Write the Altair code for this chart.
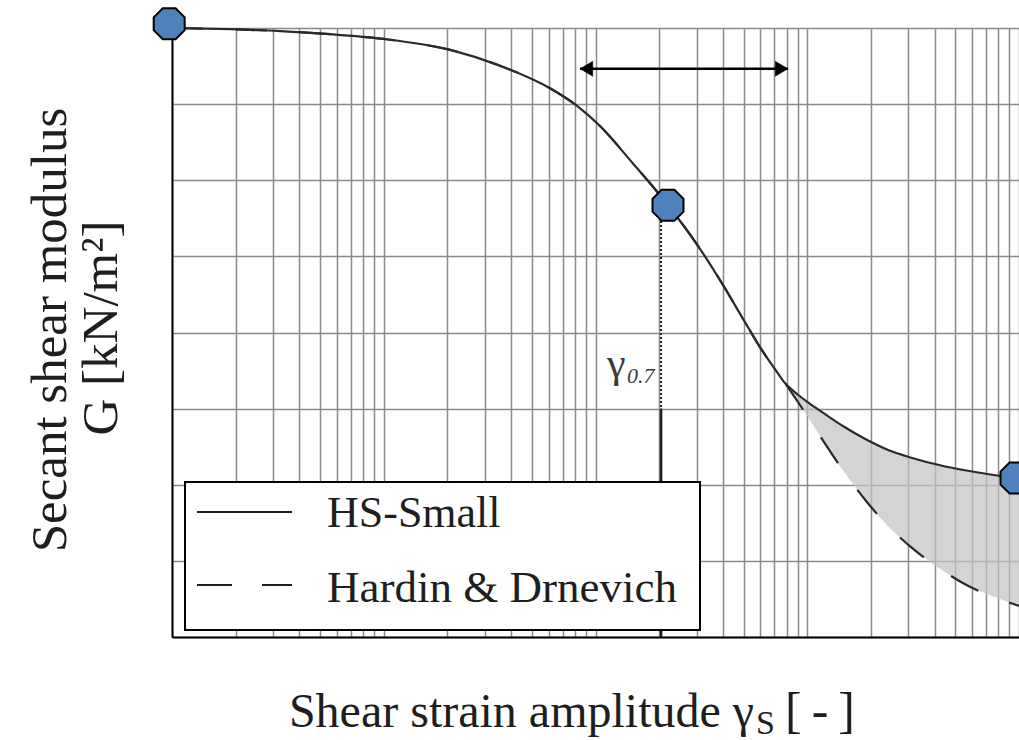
import altair as alt
import pandas as pd

# Shear strain amplitude and normalised secant shear modulus G/G0,
# part shared by both models (small strains)
gamma_head = [1.0e-6, 1.88e-6, 3.24e-6, 5.57e-6, 1.0e-5, 2.06e-5, 3.54e-5, 6.10e-5,
              8.18e-5, 1.05e-4, 1.50e-4, 1.81e-4, 2.20e-4, 3.12e-4, 4.00e-4, 5.08e-4,
              5.98e-4, 7.20e-4]
g_head = [1.000, 0.998, 0.995, 0.990, 0.982, 0.964, 0.938, 0.901,
          0.872, 0.839, 0.778, 0.745, 0.709, 0.637, 0.578, 0.517,
          0.476, 0.435]

# Larger strains, where the two models part ways
gamma_tail = [7.85e-4, 8.95e-4, 1.0e-3, 1.19e-3, 1.48e-3, 1.88e-3, 2.41e-3,
              3.13e-3, 4.24e-3, 5.74e-3, 8.32e-3, 1.0e-2]
g_hs_small_tail = [0.417, 0.399, 0.386, 0.368, 0.346, 0.325, 0.307,
                   0.294, 0.282, 0.273, 0.264, 0.261]
g_hardin_tail = [0.417, 0.388, 0.363, 0.322, 0.273, 0.225, 0.182,
                 0.146, 0.112, 0.084, 0.061, 0.051]

# Characteristic points: G0, G at gamma_0.7, G_ur cut-off
marker_gamma = [0.97e-6, 2.20e-4, 9.68e-3]
marker_g = [1.007, 0.709, 0.261]

# Drop line at gamma_0.7 (dotted upper part, solid lower part)
gamma_07 = 2.04e-4
drop_top, drop_mid = 0.683, 0.375

# Double arrow marking the typical small-strain range
arrow_gamma = [8.45e-5, 8.11e-4]
arrow_g = 0.933

series_names = ["HS-Small", "Hardin & Drnevich"]

x_grid = [m * 10.0 ** e for e in range(-6, -2) for m in range(1, 10)] + [1e-2]
y_grid = [i / 8 for i in range(9)]

FONT = "Liberation Serif"
INK = "#1e1e1e"
xs = alt.Scale(type="log", domain=[1e-6, 1e-2])
ys = alt.Scale(domain=[0, 1])

axis_style = dict(labels=False, ticks=False, title=None, grid=True,
                  gridColor="#8a8a8a", gridWidth=1.5,
                  domainColor="black", domainWidth=2)


def X(field):
    return alt.X(field, type="quantitative", scale=xs,
                 axis=alt.Axis(values=x_grid, **axis_style))


def Y(field):
    return alt.Y(field, type="quantitative", scale=ys,
                 axis=alt.Axis(values=y_grid, **axis_style))


hs_df = pd.DataFrame({"gamma": gamma_head + gamma_tail,
                      "G": g_head + g_hs_small_tail})
hd_df = pd.DataFrame({"gamma": gamma_head + gamma_tail,
                      "G": g_head + g_hardin_tail})
band_df = pd.DataFrame({"gamma": gamma_tail, "hs": g_hs_small_tail,
                        "hd": g_hardin_tail})
marker_df = pd.DataFrame({"gamma": marker_gamma, "G": marker_g})
drop_df = pd.DataFrame({"gamma": [gamma_07], "top": [drop_top],
                        "mid": [drop_mid], "bottom": [0.0]})
arrow_df = pd.DataFrame({"g0": [arrow_gamma[0]], "g1": [arrow_gamma[1]],
                         "G": [arrow_g]})
one = pd.DataFrame({"k": [0]})

band = alt.Chart(band_df).mark_area(
    color="#c4c4c4", opacity=0.72, interpolate="monotone"
).encode(x=X("gamma"), y=Y("hs"), y2="hd")

hd_line = alt.Chart(hd_df).mark_line(
    color="#2a2a2a", strokeWidth=2.2, strokeDash=[31, 33], interpolate="monotone"
).encode(x=X("gamma"), y=Y("G"))

hs_line = alt.Chart(hs_df).mark_line(
    color="#2a2a2a", strokeWidth=2.2, interpolate="monotone"
).encode(x=X("gamma"), y=Y("G"))

drop_dotted = alt.Chart(drop_df).mark_rule(
    color=INK, strokeWidth=2, strokeDash=[2, 2]
).encode(x=X("gamma"), y=Y("top"), y2="mid")

drop_solid = alt.Chart(drop_df).mark_rule(
    color=INK, strokeWidth=2.5
).encode(x=X("gamma"), y=Y("mid"), y2="bottom")

arrow_shaft = alt.Chart(arrow_df).mark_rule(
    color="black", strokeWidth=2.5
).encode(x=X("g0"), x2="g1", y=Y("G"))

arrow_left = alt.Chart(arrow_df).mark_point(
    shape="M0,0 L1.7,-1 L1.7,1 Z", size=225, filled=True,
    fill="black", stroke="black", strokeWidth=0.5, opacity=1
).encode(x=X("g0"), y=Y("G"))

arrow_right = alt.Chart(arrow_df).mark_point(
    shape="M0,0 L-1.7,-1 L-1.7,1 Z", size=225, filled=True,
    fill="black", stroke="black", strokeWidth=0.5, opacity=1
).encode(x=X("g1"), y=Y("G"))

octagon = ("M-0.383,-0.924 L0.383,-0.924 L0.924,-0.383 L0.924,0.383 "
           "L0.383,0.924 L-0.383,0.924 L-0.924,0.383 L-0.924,-0.383 Z")
markers = alt.Chart(marker_df).mark_point(
    shape=octagon, size=1125, filled=True, fill="#4f81bd",
    stroke="black", strokeWidth=2, opacity=1
).encode(x=X("gamma"), y=Y("G"))

# Legend drawn inside the plot, lower left
legend_box = alt.Chart(one).mark_rect(
    fill="white", stroke="black", strokeWidth=2
).encode(x=alt.value(13), x2=alt.value(528), y=alt.value(454), y2=alt.value(602))

legend_solid = alt.Chart(one).mark_rule(color=INK, strokeWidth=2.2).encode(
    x=alt.value(25), x2=alt.value(120), y=alt.value(484))
legend_dashed = alt.Chart(one).mark_rule(
    color=INK, strokeWidth=2.2, strokeDash=[35, 30]
).encode(x=alt.value(25), x2=alt.value(120), y=alt.value(557))


def label(text, x, y, size, **kw):
    props = dict(text=text, font=FONT, fontSize=size, color=INK,
                 align="left", baseline="alphabetic")
    props.update(kw)
    return alt.Chart(one).mark_text(**props).encode(x=alt.value(x), y=alt.value(y))


texts = [
    label(series_names[0], 155, 499, 44),
    label(series_names[1], 155, 574, 45),
    # gamma_0.7 annotation
    label("γ", 435, 349, 42, color="#3a3a3a"),
    label("0.7", 455, 355, 22, color="#3a3a3a", fontStyle="italic"),
    # x axis title with subscript
    label("Shear strain amplitude γ", 582, 699, 48, align="right"),
    label("S", 584, 706, 34),
    label("[\u2009-\u2009]", 613, 699, 50),
    # y axis title, two lines
    label("Secant shear modulus", -106, 302, 51, align="center", angle=270),
    label("G [kN/m²]", -55, 300, 51, align="center", angle=270),
]

chart = alt.layer(
    band, hd_line, hs_line, drop_dotted, drop_solid,
    arrow_shaft, arrow_left, arrow_right, markers,
    legend_box, legend_solid, legend_dashed, *texts
).properties(
    width=847, height=609,
    autosize=alt.AutoSizeParams(type="none"),
    padding={"left": 172, "top": 28, "right": 0, "bottom": 103},
    background="white",
).configure_view(stroke=None)

chart.save("out.html", embed_options={"renderer": "svg", "actions": False})
